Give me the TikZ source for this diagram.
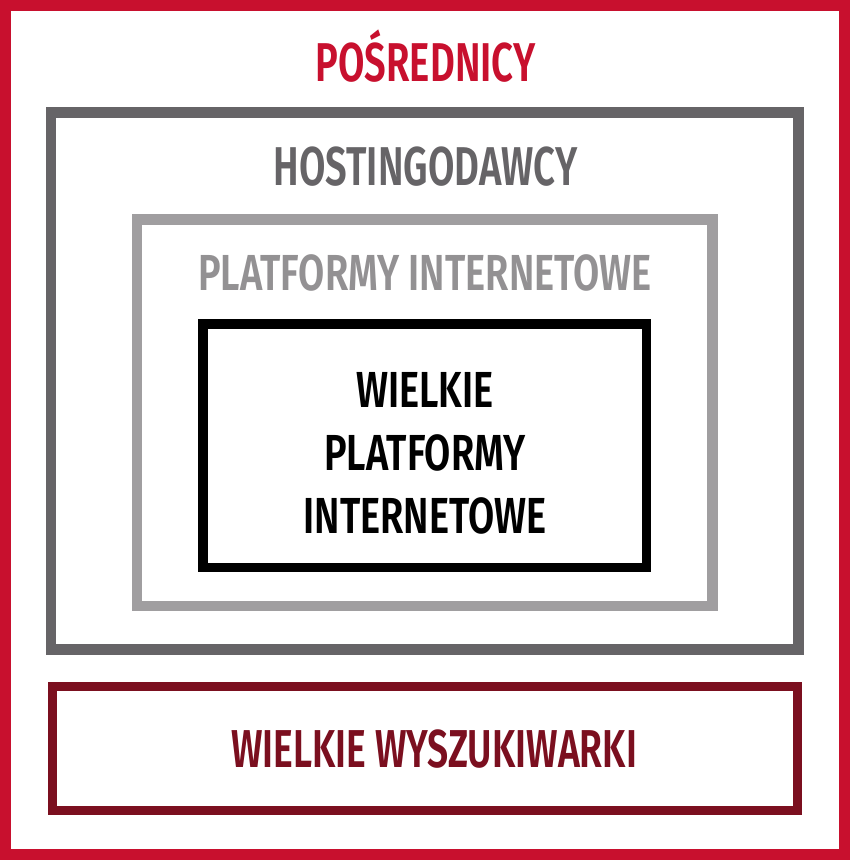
\documentclass[tikz,border=0pt]{standalone}
\usepackage{fontspec}
\newfontfamily\condfont[FakeStretch=0.7, BoldFont={Fira Sans SemiBold}]{Fira Sans}
\newfontfamily\condfontw[FakeStretch=0.75, BoldFont={Fira Sans SemiBold}]{Fira Sans}
\definecolor{cred}{HTML}{C8102E}
\definecolor{cdgray}{HTML}{666467}
\definecolor{clgray}{HTML}{A09EA0}
\definecolor{cltext}{HTML}{939193}
\definecolor{cdred}{HTML}{7B0F1F}
\tikzset{
  frame/.style={line width=#1*0.75pt, fill=none},
  lbl/.style={font=\condfont\bfseries\fontsize{41pt}{47pt}\selectfont, inner sep=0pt, anchor=base},
  lblw/.style={lbl, font=\condfontw\bfseries\fontsize{38pt}{44pt}\selectfont},
}
\begin{document}
\begin{tikzpicture}[x=0.75pt,y=-0.75pt]
\useasboundingbox (0,0) rectangle (850,860);
\fill[white] (0,0) rectangle (850,860);
% frames
\draw[frame=11, cred] (5.5,5) rectangle (844,854.5);
\draw[frame=10.5, cdgray] (51,112.5) rectangle (798.5,649.5);
\draw[frame=10.5, clgray] (137,219.5) rectangle (712.5,606);
\draw[frame=9.5, black] (203,324) rectangle (646.5,567.5);
\draw[frame=9, cdred] (52.5,686.5) rectangle (797.5,810.5);
% labels
\node[lbl, text=cred] (posr) at (425.5,81) {POŚREDNICY};
\node[lbl, text=cdgray] (host) at (425.5,185) {HOSTINGODAWCY};
\node[lblw, text=cltext] (plat) at (425,290) {PLATFORMY INTERNETOWE};
\node[lblw, text=black] (w1) at (425,407) {WIELKIE};
\node[lblw, text=black] (w2) at (425,470) {PLATFORMY};
\node[lblw, text=black] (w3) at (425,533) {INTERNETOWE};
\node[lbl, text=cdred, font=\condfont\bfseries\fontsize{40pt}{46pt}\selectfont] (wysz) at (434,767) {WIELKIE WYSZUKIWARKI};
\end{tikzpicture}
\end{document}
